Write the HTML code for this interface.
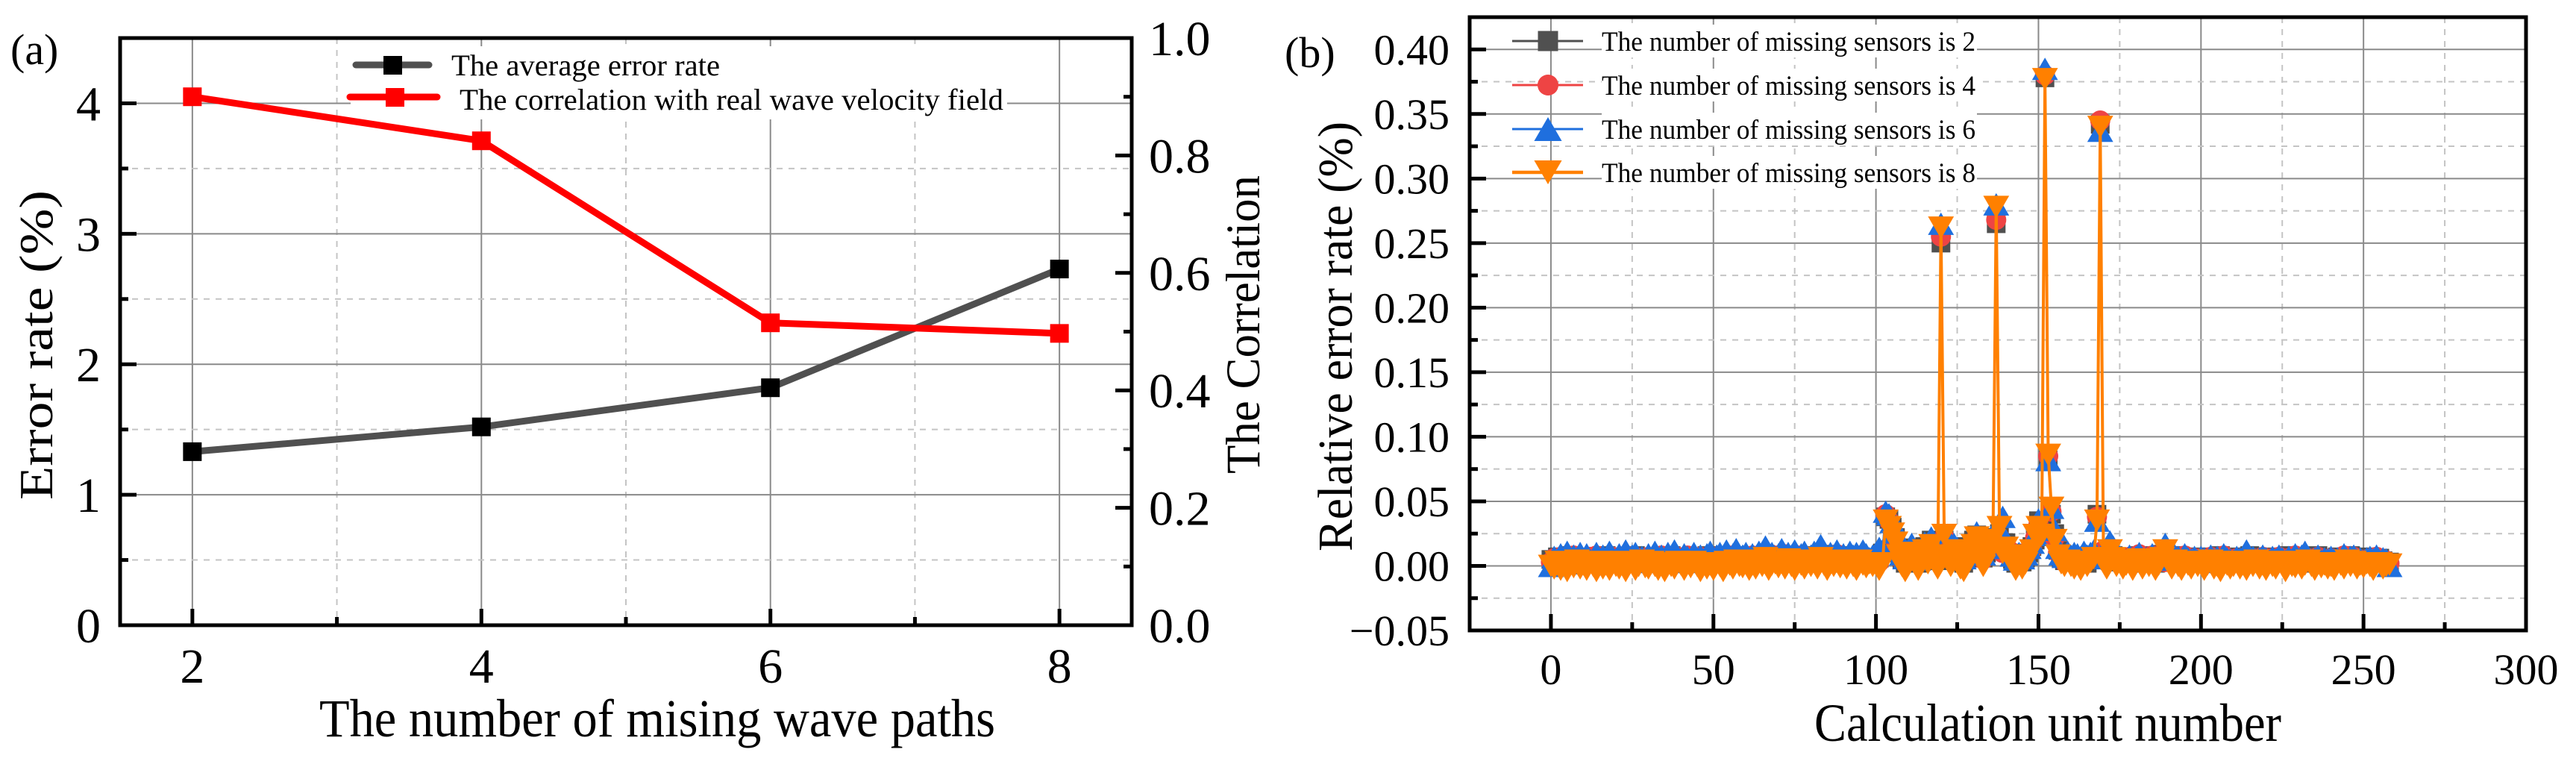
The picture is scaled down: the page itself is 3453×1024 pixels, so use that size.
<!DOCTYPE html>
<html><head><meta charset="utf-8">
<style>
html,body{margin:0;padding:0;background:#fff;}
svg{display:block;font-family:"Liberation Serif","Times New Roman",serif;}
</style></head>
<body>
<svg id="chart" xmlns="http://www.w3.org/2000/svg" width="3453" height="1024" viewBox="0 0 3453 1024">
<rect x="0" y="0" width="3453" height="1024" fill="#fff"/>
<g id="pa"></g>
<g id="pb"></g>
</svg>
<script>
// ---------- Panel (a) data ----------
const aCategories = [2, 4, 6, 8];
const aErrorRate = [1.33, 1.52, 1.82, 2.73];
const aCorrelation = [0.90, 0.825, 0.515, 0.497];
const aLeftTicks = [0, 1, 2, 3, 4];
const aRightTicks = ["0.0", "0.2", "0.4", "0.6", "0.8", "1.0"];
const aXTicks = [2, 4, 6, 8];

// ---------- Panel (b) data (relative error, in 0.001 % units) ----------
const bXTicks = [0, 50, 100, 150, 200, 250, 300];
const bYTicks = ["\u22120.05", "0.00", "0.05", "0.10", "0.15", "0.20", "0.25", "0.30", "0.35", "0.40"];
const bMissing2 = [5,3,7,2,6,4,8,3,5,2, 6,4,3,7,5,2,6,8,4,3, 5,7,3,6,2,4,8,5,3,6, 4,2,7,5,3,6,4,8,2,5, 6,3,5,7,2,4,6,3,8,5,
 3,6,4,2,7,5,3,8,4,6, 5,2,6,4,7,3,9,5,4,6, 3,7,5,8,4,6,2,5,7,4, 6,8,3,5,9,4,6,2,7,5, 4,6,8,3,5,7,4,6,3,5,
 4,6,10,38,36,30,22,12,5,2, 8,14,6,2,10,15,8,20,12,4, 250,20,12,6,15,10,4,2,8,14, 20,24,12,6,10,15,22,265,25,12, 18,10,5,2,8,3,6,10,15,20,
 35,28,378,82,40,25,12,6,4,8, 5,3,7,4,6,2,8,5,40,342, 10,6,4,8,3,5,7,4,6,2, 5,8,3,6,4,7,2,5,9,4, 6,3,8,5,2,7,4,6,3,5,
 4,7,2,6,5,3,8,4,6,2, 5,7,3,6,4,8,2,5,3,6, 4,2,7,5,3,6,4,8,5,3, 6,4,2,7,5,3,8,4,6,2, 5,3,7,4,6,2,8,5,3,6, 4,7,2,5,3,6,4,2,3];
const bMissing4 = [3,6,2,7,4,5,3,8,2,6, 5,3,7,4,8,2,5,6,3,7, 4,6,2,8,5,3,7,4,6,2, 7,4,5,3,8,2,6,5,4,7, 3,5,8,2,6,4,7,3,5,6,
 4,7,3,5,2,8,4,6,3,7, 6,4,8,3,5,7,2,6,4,8, 5,3,9,4,6,2,8,5,3,7, 4,6,3,8,5,2,7,4,9,6, 5,3,7,4,6,8,3,5,4,6,
 5,3,8,40,35,28,20,10,4,3, 6,12,8,3,9,13,6,18,14,5, 255,22,10,5,13,12,3,4,9,12, 18,22,14,5,12,17,20,268,22,10, 16,12,6,3,7,4,5,12,13,22,
 32,25,380,85,42,22,10,5,3,7, 4,6,5,3,7,4,6,8,38,345, 12,5,6,7,4,6,5,3,7,4, 6,9,4,5,3,8,4,6,7,3, 5,4,7,6,3,8,5,4,6,3,
 6,5,3,7,4,6,2,8,5,4, 3,6,5,4,7,3,6,4,5,7, 5,3,6,4,7,5,3,6,4,8, 4,7,3,6,4,5,7,3,5,4, 6,4,5,3,8,4,6,7,4,5, 3,5,6,4,7,3,5,4,2];
const bMissing6 = [0,7,3,9,5,11,2,8,6,10, 4,9,5,3,10,6,8,4,11,7, 5,9,6,12,4,8,10,5,7,3, 9,6,11,5,8,4,10,7,12,6, 5,9,7,3,10,6,8,5,9,11,
 6,8,10,5,12,7,9,13,6,8, 10,5,9,7,11,8,15,6,10,7, 9,13,6,10,8,12,7,9,11,6, 8,11,7,16,9,6,10,8,12,7, 9,6,11,8,10,7,12,9,6,8,
 10,14,12,42,40,34,26,16,9,6, 11,17,10,5,12,18,10,22,16,8, 265,26,14,8,17,14,7,6,12,16, 22,26,16,9,14,19,24,280,28,38, 20,14,8,5,10,6,9,14,18,24,
 36,30,385,82,45,28,14,9,7,11, 8,10,9,7,11,8,10,12,35,337, 11,6,19,15,9,7,6,4,8,5, 7,10,5,6,4,9,5,7,8,17, 6,5,8,7,4,9,6,5,7,4,
 7,6,4,8,5,7,3,9,6,5, 4,7,6,5,12,4,7,5,6,8, 6,4,7,5,8,6,4,7,5,9, 5,8,11,7,5,6,8,4,6,5, 7,5,6,4,9,5,7,8,5,6, 4,6,7,5,8,4,6,5,0];
const bMissing8 = [0,-2,3,-3,1,-4,2,-1,4,-2, 1,-3,2,0,-4,3,-2,1,-3,2, 0,-2,3,-4,1,2,-3,0,4,-1, -2,3,0,-3,1,-4,2,0,-2,3, 1,-3,2,-1,3,0,-4,2,-2,1,
 -3,2,0,-4,3,1,-2,4,0,-1, 2,-3,1,-2,4,0,6,-3,1,2, -1,3,-2,5,0,-3,2,1,-2,4, 0,3,-2,6,1,-3,2,0,4,-1, 2,-2,3,0,-3,4,1,-1,2,0,
 1,-3,2,35,30,25,18,8,0,-4, 4,10,2,-3,6,12,2,16,8,-2, 262,24,8,0,12,8,-2,-4,4,10, 16,22,10,0,6,14,20,278,30,10, 14,8,2,-3,4,-2,2,8,12,24,
 30,24,377,86,45,20,8,2,0,4, 0,-2,3,-3,2,0,3,6,35,340, 6,-2,12,6,0,3,-2,1,4,-3, 2,5,-2,3,0,4,-3,1,6,12, 3,-2,4,0,-3,2,1,-2,3,0,
 2,-3,1,4,-2,0,-4,3,1,-2, 0,3,-2,1,-3,2,0,4,-2,1, -3,2,0,-2,3,1,-4,2,0,-1, 3,-2,1,4,0,-3,2,-1,1,-2, 0,-3,2,1,-2,4,0,3,-2,1, -1,2,0,-3,1,2,-2,0,1];

const NS = "http://www.w3.org/2000/svg";
function mk(parent, tag, attrs, text) {
  const e = document.createElementNS(NS, tag);
  for (const k in attrs) e.setAttribute(k, attrs[k]);
  if (text !== undefined) e.textContent = text;
  parent.appendChild(e);
  return e;
}
const GRID = "#8a8a8a", MINOR = "#c4c4c4";

// ================= Panel (a) =================
const pa = document.getElementById("pa");
const aL = 161, aR = 1517, aT = 51, aB = 838;
const ax = v => aL + (v - 1.5) / 7 * (aR - aL);
const ay = v => aB - v / 4.5 * (aB - aT);
const ayr = v => aB - v / 1.0 * (aB - aT);

for (let v = 2; v <= 8; v++) {
  const l = mk(pa, "line", {x1: ax(v), x2: ax(v), y1: aT, y2: aB, stroke: v % 2 === 0 ? GRID : MINOR, "stroke-width": 2, "stroke-dasharray": v % 2 === 0 ? "none" : "8,8"});
  
  
}
for (let i = 1; i <= 8; i++) {
  const v = i * 0.5;
  const l = mk(pa, "line", {x1: aL, x2: aR, y1: ay(v), y2: ay(v), stroke: i % 2 === 0 ? GRID : MINOR, "stroke-width": 2, "stroke-dasharray": i % 2 === 0 ? "none" : "8,8"});
  
  
}
const alb = mk(pa, "rect", {x: 470, y: 62, width: 880, height: 98, fill: "#fff"});



for (let i = 0; i <= 9; i++) {
  const v = i * 0.5, len = i % 2 === 0 ? 22 : 11;
  const t = mk(pa, "line", {x1: aL, x2: aL + len, y1: ay(v), y2: ay(v), stroke: "#000", "stroke-width": 5});
  
  
}
for (let i = 0; i <= 10; i++) {
  const v = i * 0.1, len = i % 2 === 0 ? 22 : 11;
  const t = mk(pa, "line", {x1: aR - len, x2: aR, y1: ayr(v), y2: ayr(v), stroke: "#000", "stroke-width": 5});
  
  
}
for (let v = 2; v <= 8; v++) {
  const len = v % 2 === 0 ? 22 : 11;
  const t = mk(pa, "line", {x1: ax(v), x2: ax(v), y1: aB - len, y2: aB, stroke: "#000", "stroke-width": 5});
  
  
}
const af = mk(pa, "rect", {x: aL, y: aT, width: aR - aL, height: aB - aT, fill: "none", stroke: "#000", "stroke-width": 5});



aLeftTicks.forEach(v => {
  const t = mk(pa, "text", {x: 135, y: ay(v) + 23, "font-size": 66, "text-anchor": "end"}, String(v));
  
  
});
aRightTicks.forEach(s => {
  const t = mk(pa, "text", {x: 1540, y: ayr(parseFloat(s)) + 23, "font-size": 66}, s);
  
  
});
aXTicks.forEach(v => {
  const t = mk(pa, "text", {x: ax(v), y: 915, "font-size": 66, "text-anchor": "middle"}, String(v));
  
  
});

const errPts = aCategories.map((c, i) => ax(c) + "," + ay(aErrorRate[i])).join(" ");
const errLine = mk(pa, "polyline", {points: errPts, fill: "none", stroke: "#505050", "stroke-width": 9, "stroke-linejoin": "round"});


const corPts = aCategories.map((c, i) => ax(c) + "," + ayr(aCorrelation[i])).join(" ");
const corLine = mk(pa, "polyline", {points: corPts, fill: "none", stroke: "#ff0000", "stroke-width": 9, "stroke-linejoin": "round"});


aCategories.forEach((c, i) => {
  const m = mk(pa, "rect", {x: ax(c) - 12.5, y: ay(aErrorRate[i]) - 12.5, width: 25, height: 25, fill: "#000"});
  
  
});
aCategories.forEach((c, i) => {
  const m = mk(pa, "rect", {x: ax(c) - 12.5, y: ayr(aCorrelation[i]) - 12.5, width: 25, height: 25, fill: "#ff0000"});
  
  
});

const la1 = mk(pa, "line", {x1: 477, x2: 575, y1: 87, y2: 87, stroke: "#505050", "stroke-width": 9, "stroke-linecap": "round"});


const lm1 = mk(pa, "rect", {x: 514, y: 75, width: 25, height: 25, fill: "#000"});


const lt1 = mk(pa, "text", {x: 605, y: 101, "font-size": 40, textLength: 360, lengthAdjust: "spacingAndGlyphs"}, "The average error rate");


const la2 = mk(pa, "line", {x1: 469, x2: 586, y1: 130, y2: 130, stroke: "#ff0000", "stroke-width": 9, "stroke-linecap": "round"});


const lm2 = mk(pa, "rect", {x: 517, y: 118, width: 25, height: 25, fill: "#ff0000"});


const lt2 = mk(pa, "text", {x: 616, y: 147, "font-size": 40, textLength: 729, lengthAdjust: "spacingAndGlyphs"}, "The correlation with real wave velocity field");



const pla = mk(pa, "text", {x: 14, y: 86, "font-size": 58}, "(a)");


const axt = mk(pa, "text", {x: 428, y: 987, "font-size": 72, textLength: 906, lengthAdjust: "spacingAndGlyphs"}, "The number of mising wave paths");


const ayt = mk(pa, "text", {x: 0, y: 0, "font-size": 64, transform: "translate(70,670) rotate(-90)", textLength: 415, lengthAdjust: "spacingAndGlyphs"}, "Error rate  (%)");


const ayr2 = mk(pa, "text", {x: 0, y: 0, "font-size": 65, transform: "translate(1688,635) rotate(-90)", textLength: 400, lengthAdjust: "spacingAndGlyphs"}, "The Correlation");



// ================= Panel (b) =================
const pb = document.getElementById("pb");
const bL = 1970, bR = 3386, bT = 23, bB = 845;
const bx = v => bL + (v + 25) / 325 * (bR - bL);
const by = v => bB - (v + 0.05) / 0.475 * (bB - bT);
const milli = 0.001;

for (let i = 0; i <= 12; i++) {
  const v = -25 + i * 25;
  if (v <= -25) continue;
  const major = v % 50 === 0;
  const l = mk(pb, "line", {x1: bx(v), x2: bx(v), y1: bT, y2: bB, stroke: major ? GRID : MINOR, "stroke-width": 2, "stroke-dasharray": major ? "none" : "8,8"});
  
  
}
for (let i = 1; i <= 18; i++) {
  const v = -0.05 + i * 0.025;
  const major = i % 2 === 0;
  const l = mk(pb, "line", {x1: bL, x2: bR, y1: by(v), y2: by(v), stroke: major ? GRID : MINOR, "stroke-width": 2, "stroke-dasharray": major ? "none" : "8,8"});
  
  
}
[55, 114, 173, 231].forEach(yy => {
  const r = mk(pb, "rect", {x: 2147, y: yy - 22, width: 503, height: 44, fill: "#fff"});
  
  
});

for (let i = 0; i <= 19; i++) {
  const v = -0.05 + i * 0.025, len = i % 2 === 0 ? 22 : 11;
  const t = mk(pb, "line", {x1: bL, x2: bL + len, y1: by(v), y2: by(v), stroke: "#000", "stroke-width": 5});
  
  
}
for (let i = 1; i <= 13; i++) {
  const v = -25 + i * 25, len = v % 50 === 0 ? 22 : 11;
  const t = mk(pb, "line", {x1: bx(v), x2: bx(v), y1: bB - len, y2: bB, stroke: "#000", "stroke-width": 5});
  
  
}

bYTicks.forEach(s => {
  const t = mk(pb, "text", {x: 1943, y: by(parseFloat(s.replace("\u2212", "-"))) + 20, "font-size": 58, "text-anchor": "end"}, s);
  
  
});
bXTicks.forEach(v => {
  const t = mk(pb, "text", {x: bx(v), y: 917, "font-size": 58, "text-anchor": "middle"}, String(v));
  
  
});

function marker(parent, shape, cx, cy, color, s) {
  let m;
  if (shape === "square") m = mk(parent, "rect", {x: cx - s / 2, y: cy - s / 2, width: s, height: s, fill: color});
  else if (shape === "circle") m = mk(parent, "circle", {cx: cx, cy: cy, r: s / 2, fill: color});
  else if (shape === "up") m = mk(parent, "polygon", {points: (cx - s * 0.58) + "," + (cy + s / 2) + " " + (cx + s * 0.58) + "," + (cy + s / 2) + " " + cx + "," + (cy - s / 2), fill: color});
  else m = mk(parent, "polygon", {points: (cx - s * 0.58) + "," + (cy - s / 2) + " " + (cx + s * 0.58) + "," + (cy - s / 2) + " " + cx + "," + (cy + s / 2), fill: color});
  return m;
}

const bSeries = [
  {data: bMissing2, color: "#505050", shape: "square", size: 25, lw: 2.5, name: "missing-2"},
  {data: bMissing4, color: "#ee4444", shape: "circle", size: 27, lw: 2.5, name: "missing-4"},
  {data: bMissing6, color: "#1f6fde", shape: "up", size: 30, lw: 2.5, name: "missing-6"},
  {data: bMissing8, color: "#ff8000", shape: "down", size: 30, lw: 4, name: "missing-8"}
];
bSeries.forEach(s => {
  const g = mk(pb, "g", {});
  
  
  const pts = s.data.map((v, i) => bx(i) + "," + by(v * milli)).join(" ");
  const pl = mk(g, "polyline", {points: pts, fill: "none", stroke: s.color, "stroke-width": s.lw, "stroke-linejoin": "round"});
  
  
  s.data.forEach((v, i) => {
    const m = marker(g, s.shape, bx(i), by(v * milli), s.color, s.size);
    
    
  });
});

const bf = mk(pb, "rect", {x: bL, y: bT, width: bR - bL, height: bB - bT, fill: "none", stroke: "#000", "stroke-width": 5});



const legLabels = ["The number of missing sensors is 2", "The number of missing sensors is 4", "The number of missing sensors is 6", "The number of missing sensors is 8"];
const legY = [55, 114, 173, 231];
bSeries.forEach((s, i) => {
  const g = mk(pb, "g", {});
  
  
  mk(g, "line", {x1: 2027, x2: 2122, y1: legY[i], y2: legY[i], stroke: s.color, "stroke-width": s.lw + 0.5});
  marker(g, s.shape, 2075, legY[i], s.color, s.shape === "square" ? 27 : (s.shape === "circle" ? 28 : 32));
  mk(g, "text", {x: 2147, y: legY[i] + 13, "font-size": 37, textLength: 501, lengthAdjust: "spacingAndGlyphs"}, legLabels[i]);
});

const plb = mk(pb, "text", {x: 1722, y: 90, "font-size": 58}, "(b)");


const bxt = mk(pb, "text", {x: 2432, y: 993, "font-size": 72, textLength: 626, lengthAdjust: "spacingAndGlyphs"}, "Calculation unit number");


const byt = mk(pb, "text", {x: 0, y: 0, "font-size": 66, transform: "translate(1812,739) rotate(-90)", textLength: 576, lengthAdjust: "spacingAndGlyphs"}, "Relative error rate (%)");


</script>
</body></html>
